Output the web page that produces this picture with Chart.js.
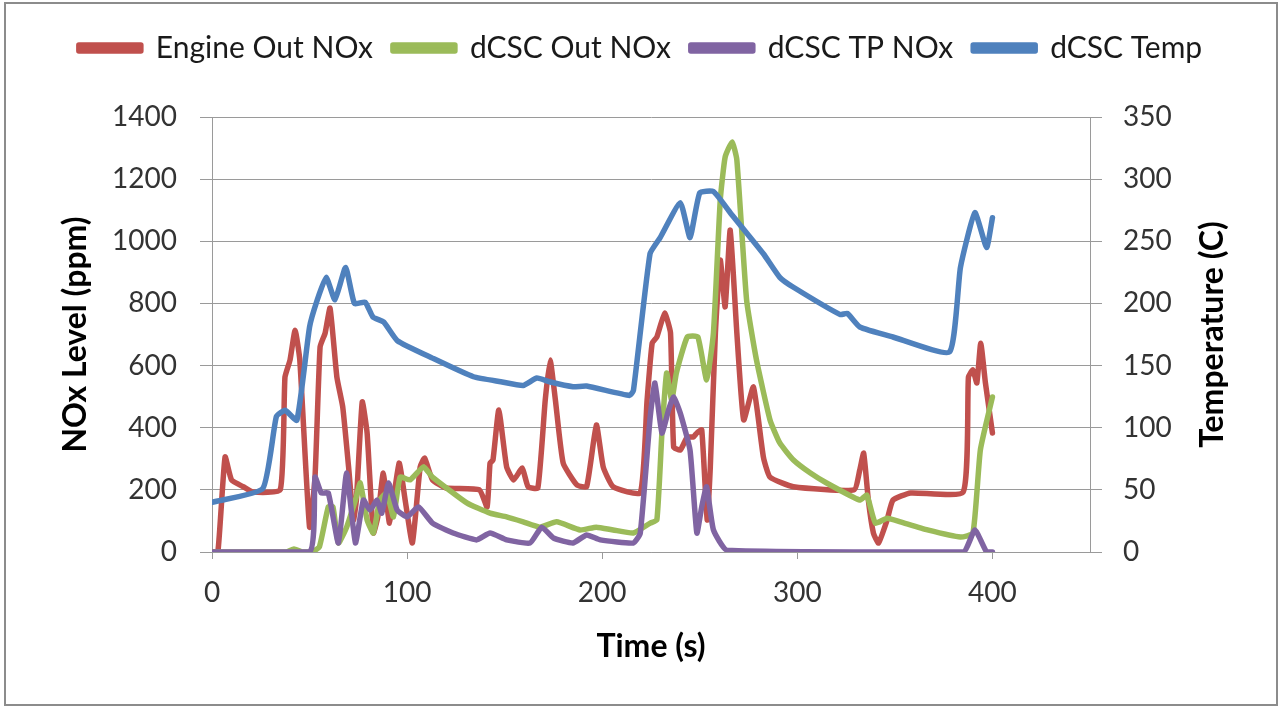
<!DOCTYPE html>
<html>
<head>
<meta charset="utf-8">
<script src="https://cdn.jsdelivr.net/npm/chart.js@4.4.1/dist/chart.umd.min.js"></script>
<style>
  html, body { margin: 0; padding: 0; background: #ffffff; }
  #wrap { width: 1281px; height: 707px; position: relative; }
</style>
</head>
<body>
<div id="wrap"><canvas id="c" width="1281" height="707"></canvas></div>
<script>
// ---- data ----
const seriesNames = ['Engine Out NOx', 'dCSC Out NOx', 'dCSC TP NOx', 'dCSC Temp'];

const engineT = [0,3,6.7,10,16,21,35,37.4,40,42.6,45,50,52.8,55.4,58,60.5,64,67,70,72.5,74,77,79.5,82.7,85,87.8,91,95.9,99,102.7,106.7,109,113,120,137,141,142.5,144,147,151,154.6,159,162,167,170.8,173.3,176,180,187,192,197,200.5,205.6,219.5,223,225.6,228,232,235,236.6,240,243.6,246.7,248.5,251,253.8,255.4,258,260.5,263,265.6,269,272.5,277.5,282.6,286,298,329,332,334,336.4,339,341.6,346,349,358,385,387.7,390,392,394,396.4,400];
const engineV = [0,0,306,232,210,193,200,563,618,714,618,80,241,660,705,785,563,467,274,103,167,483,383,61,113,254,93,286,167,29,274,302,232,206,200,145,286,296,457,274,232,270,210,206,489,618,489,286,216,210,409,274,210,190,489,672,692,769,705,338,328,370,370,383,393,103,274,705,940,789,1036,705,425,531,306,241,210,200,264,318,167,61,29,103,167,190,193,563,586,544,672,544,383];

const greenT = [0,38,42,46,51,55,59.6,62,64.8,69,73.5,76,79.5,82.7,86,89.6,93,96.4,101.5,108.4,113,130.6,142.5,151,159.5,168,176.6,188.7,197,205.6,216,224.6,228,230.6,233,235.6,238,243.6,249,253.5,257,260.5,263,266.6,269,274,279,286,291,298,306.7,315,332,335.6,340,346,352.8,366.7,383.6,390,393.8,400];
const greenV = [0,0,10,0,0,16,145,145,29,80,167,222,103,61,167,190,113,241,232,274,241,158,125,113,97,80,97,71,80,71,61,93,103,383,576,489,576,692,692,554,705,1133,1271,1320,1262,811,620,425,351,296,254,222,167,183,93,109,97,71,48,61,328,499];

const purpleT = [0,50,52.8,56,59.6,64.8,69,73.5,77.6,81,84.6,87,90.5,94.9,100,105.8,113,123.6,135.6,142.5,151,163,169,175,185,192,199,216,219.5,224.6,227,230.6,234,236.6,240,245,248.5,251,253.5,257,264,385,391,397,400];
const purpleV = [0,0,241,190,190,29,254,29,167,135,167,125,222,135,113,145,93,61,39,61,39,29,80,45,29,55,39,29,61,435,544,383,457,499,447,328,61,145,210,71,6,0,71,0,0];

const tempT = [0,26,33,37.5,43.5,50,54,58.5,63,68.5,73,78.5,82.5,88,95,113,134,148,159.5,166.5,173,185,192,214,216,224.5,229.7,240,245,250,257,265.6,282.6,291,298,322,325.6,332,349,378,383.6,391,397,400];
const tempV = [40,51,109,114,106,181,203,221,203,229,200,201,189,185,170,156,141,137,134,140,137,133,133.5,126,130,240,253,281,253,289,290,273,240,221,213,191,192,181,173,161,229,273,245,269];

const xTicks = [0,100,200,300,400];
const noxTicks = [0,200,400,600,800,1000,1200,1400];
const tempTicks = [0,50,100,150,200,250,300,350];

// ---- build chart ----
function pts(t, v) { return t.map((x, i) => ({ x: x, y: v[i] })); }
const colors = ['#C0504D', '#9BBB59', '#8064A2', '#4F81BD'];
const FONT = 'Lato, "Open Sans", sans-serif';
const plain = (v) => String(v);

const framePlugin = {
  id: 'frame',
  beforeDraw(chart) {
    const ctx = chart.ctx;
    ctx.save();
    ctx.fillStyle = '#ffffff';
    ctx.fillRect(0, 0, chart.width, chart.height);
    ctx.strokeStyle = '#8c8c8c';
    ctx.lineWidth = 2;
    ctx.strokeRect(5, 3, chart.width - 9, chart.height - 5);
    ctx.restore();
  },
  afterDraw(chart) {
    const ctx = chart.ctx;
    const ya = chart.scales.y2;
    const ca = chart.chartArea;
    ctx.save();
    ctx.translate(ya.right - 68, (ca.top + ca.bottom) / 2);
    ctx.rotate(-Math.PI / 2);
    ctx.font = 'bold 32px ' + FONT;
    ctx.fillStyle = '#000000';
    ctx.textAlign = 'center';
    ctx.textBaseline = 'middle';
    ctx.fillText('Temperature (C)', 0, 0);
    ctx.restore();
  }
};

new Chart(document.getElementById('c'), {
  type: 'line',
  data: {
    datasets: [
      { label: seriesNames[0], data: pts(engineT, engineV), borderColor: colors[0], backgroundColor: colors[0], yAxisID: 'y', order: 4 },
      { label: seriesNames[1], data: pts(greenT, greenV), borderColor: colors[1], backgroundColor: colors[1], yAxisID: 'y', order: 3 },
      { label: seriesNames[2], data: pts(purpleT, purpleV), borderColor: colors[2], backgroundColor: colors[2], yAxisID: 'y', order: 2 },
      { label: seriesNames[3], data: pts(tempT, tempV), borderColor: colors[3], backgroundColor: colors[3], yAxisID: 'y2', order: 1 }
    ]
  },
  options: {
    responsive: false,
    animation: false,
    devicePixelRatio: 1,
    elements: {
      point: { radius: 0 },
      line: { borderWidth: 5.5, tension: 0.15, borderJoinStyle: 'round', borderCapStyle: 'round' }
    },
    layout: { padding: { top: 13, left: 0, right: 0, bottom: 0 } },
    plugins: {
      tooltip: { enabled: false },
      title: { display: true, text: '', weight: 100, font: { size: 10 }, padding: { top: 0, bottom: 32 } },
      legend: {
        position: 'top',
        labels: {
          font: { family: FONT, size: 30 },
          color: '#1a1a1a',
          boxWidth: 62,
          boxHeight: 6,
          padding: 20,
          sort: (a, b) => a.datasetIndex - b.datasetIndex
        }
      }
    },
    scales: {
      x: {
        type: 'linear',
        min: 0, max: 450,
        afterBuildTicks: (s) => { s.ticks = xTicks.map(v => ({ value: v })); },
        ticks: { font: { family: FONT, size: 28 }, color: '#333333', padding: 17, callback: plain },
        grid: { display: true, drawOnChartArea: false, color: '#9a9a9a', tickLength: 7, lineWidth: 1 },
        border: { display: true, color: '#9a9a9a', width: 1 },
        title: { display: true, text: 'Time (s)', font: { family: FONT, size: 32, weight: 'bold' }, color: '#000000', padding: { top: 0, bottom: 41 } },
        afterFit: (s) => { s.height = 155; }
      },
      y: {
        position: 'left',
        min: 0, max: 1400,
        afterBuildTicks: (s) => { s.ticks = noxTicks.map(v => ({ value: v })); },
        ticks: { font: { family: FONT, size: 28 }, color: '#333333', padding: 23, callback: plain },
        grid: { display: true, drawOnChartArea: true, color: '#9a9a9a', tickLength: 12, lineWidth: 1 },
        border: { display: true, color: '#9a9a9a', width: 1 },
        title: { display: true, text: 'NOx Level (ppm)', font: { family: FONT, size: 32, weight: 'bold' }, color: '#000000', padding: { top: 56, bottom: 0 } },
        afterFit: (s) => { s.width = 212; }
      },
      y2: {
        position: 'right',
        min: 0, max: 350,
        afterBuildTicks: (s) => { s.ticks = tempTicks.map(v => ({ value: v })); },
        ticks: { font: { family: FONT, size: 28 }, color: '#333333', padding: 21, callback: plain },
        grid: { display: true, drawOnChartArea: false, color: '#9a9a9a', tickLength: 12, lineWidth: 1 },
        border: { display: true, color: '#9a9a9a', width: 1 },
        title: { display: false },
        afterFit: (s) => { s.width = 191; }
      }
    }
  },
  plugins: [framePlugin]
});
</script>
</body>
</html>
